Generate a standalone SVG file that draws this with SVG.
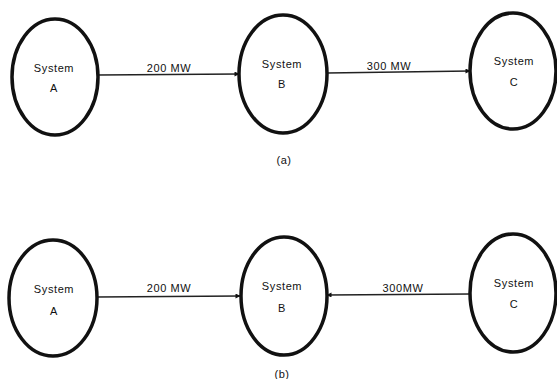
<svg xmlns="http://www.w3.org/2000/svg" width="557" height="379" viewBox="0 0 557 379">
  <style>
    .sys { fill: #fff; stroke: #111; stroke-width: 3.5; }
    .lbl { font-family: "Liberation Sans", Arial, sans-serif; font-size: 11px; fill: #111; text-anchor: middle; letter-spacing: 0.6px; }
    .flow { stroke: #222; stroke-width: 1.6; fill: none; }
  </style>
  <defs>
    <marker id="arrow" viewBox="0 0 10 10" refX="9" refY="5" markerWidth="7" markerHeight="5" orient="auto" markerUnits="userSpaceOnUse">
      <path d="M0,0 L10,5 L0,10 Z" fill="#111"/>
    </marker>
  </defs>
  <rect width="557" height="379" fill="#fff"/>

  <!-- power flows -->
  <g id="connectors">
    <line class="flow" x1="98" y1="75" x2="239" y2="74" marker-end="url(#arrow)"/>
    <line class="flow" x1="327" y1="73" x2="470" y2="71" marker-end="url(#arrow)"/>
    <line class="flow" x1="97" y1="297" x2="240" y2="296" marker-end="url(#arrow)"/>
    <line class="flow" x1="470" y1="294" x2="327" y2="295" marker-end="url(#arrow)"/>
    <text class="lbl" x="169" y="72">200 MW</text>
    <text class="lbl" x="389" y="70">300 MW</text>
    <text class="lbl" x="169" y="292">200 MW</text>
    <text class="lbl" x="403" y="292" letter-spacing="0">300MW</text>
  </g>

  <!-- case (a) -->
  <g id="a-system-a">
    <ellipse class="sys" cx="55" cy="77" rx="43" ry="58"/>
    <text class="lbl" x="54" y="72">System</text>
    <text class="lbl" x="54" y="92">A</text>
  </g>
  <g id="a-system-b">
    <ellipse class="sys" cx="283" cy="74" rx="44" ry="59"/>
    <text class="lbl" x="282" y="68">System</text>
    <text class="lbl" x="282" y="88">B</text>
  </g>
  <g id="a-system-c">
    <ellipse class="sys" cx="513" cy="71" rx="43" ry="58"/>
    <text class="lbl" x="514" y="65">System</text>
    <text class="lbl" x="514" y="86">C</text>
  </g>
  <text class="lbl" x="284" y="164">(a)</text>

  <!-- case (b) -->
  <g id="b-system-a">
    <ellipse class="sys" cx="53" cy="298" rx="44" ry="58"/>
    <text class="lbl" x="54" y="293">System</text>
    <text class="lbl" x="54" y="315">A</text>
  </g>
  <g id="b-system-b">
    <ellipse class="sys" cx="284" cy="296" rx="43" ry="59"/>
    <text class="lbl" x="282" y="290">System</text>
    <text class="lbl" x="282" y="312">B</text>
  </g>
  <g id="b-system-c">
    <ellipse class="sys" cx="513" cy="293" rx="43" ry="59"/>
    <text class="lbl" x="514" y="287">System</text>
    <text class="lbl" x="514" y="308">C</text>
  </g>
  <text class="lbl" x="282" y="378">(b)</text>
</svg>
